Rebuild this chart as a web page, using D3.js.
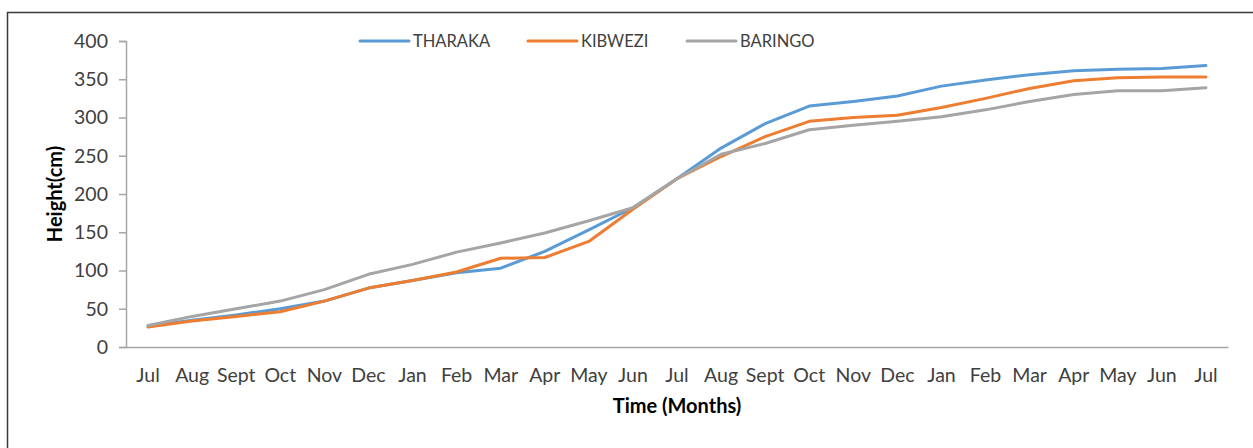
<!DOCTYPE html>
<html>
<head>
<meta charset="utf-8">
<script src="https://cdn.jsdelivr.net/npm/d3@7"></script>
<style>
  body { margin: 0; background: #fff; }
  svg { display: block; font-family: Lato, "Open Sans", sans-serif; }
  .tick text { fill: #404040; font-size: 19.5px; font-family: Lato, "Open Sans", sans-serif; }
  .leg-label { fill: #404040; font-size: 16.5px; }
  .axis-title { fill: #000; font-size: 20px; font-weight: bold; }
</style>
</head>
<body>
<div id="chart"></div>
<script>
const months = ['Jul', 'Aug', 'Sept', 'Oct', 'Nov', 'Dec', 'Jan', 'Feb', 'Mar', 'Apr', 'May', 'Jun',
  'Jul', 'Aug', 'Sept', 'Oct', 'Nov', 'Dec', 'Jan', 'Feb', 'Mar', 'Apr', 'May', 'Jun', 'Jul'];
const tharaka = [27, 35, 42, 50, 60, 77, 87, 97, 103, 125, 153, 182, 220, 260, 292, 315, 321, 328, 341, 349, 356, 361, 363, 364, 368];
const kibwezi = [26, 34, 40, 46, 60, 77, 87, 98, 116, 117, 138, 180, 220, 249, 275, 295, 300, 303, 313, 325, 338, 348, 352, 353, 353];
const baringo = [28, 40, 50, 60, 75, 95, 108, 124, 136, 149, 165, 182, 220, 252, 266, 284, 290, 295, 301, 310, 321, 330, 335, 335, 339];
const seriesNames = ['THARAKA', 'KIBWEZI', 'BARINGO'];
const seriesColors = ['#5B9BD5', '#ED7D31', '#A5A5A5'];
const yTicks = [0, 50, 100, 150, 200, 250, 300, 350, 400];

const width = 1253, height = 448;
const margin = { left: 126, right: 25, top: 41, bottom: 101 };

const svg = d3.select('#chart').append('svg')
  .attr('width', width)
  .attr('height', height);

// chart frame (runs off the right and bottom of the picture)
svg.append('rect')
  .attr('x', 7.5).attr('y', 12.5)
  .attr('width', 1260).attr('height', 450)
  .attr('fill', 'none')
  .attr('stroke', '#3a3a3a')
  .attr('stroke-width', 1.5);

const x = d3.scaleBand()
  .domain(d3.range(months.length))
  .range([margin.left, width - margin.right]);

const y = d3.scaleLinear()
  .domain([0, 400])
  .range([height - margin.bottom, margin.top]);

// y axis
const yAxis = svg.append('g')
  .attr('transform', `translate(${margin.left},0)`)
  .call(d3.axisLeft(y).tickValues(yTicks).tickSize(7).tickPadding(11));
yAxis.select('.domain').attr('stroke', '#a6a6a6').attr('stroke-width', 1.5);
yAxis.selectAll('.tick line').attr('stroke', '#a6a6a6').attr('stroke-width', 1.5);

// x axis
const xAxis = svg.append('g')
  .attr('transform', `translate(0,${height - margin.bottom})`)
  .call(d3.axisBottom(x).tickFormat(i => months[i]).tickSize(0).tickPadding(21));
xAxis.select('.domain').attr('stroke', '#a6a6a6').attr('stroke-width', 1.5);

// lines
const line = d3.line()
  .x((d, i) => x(i) + x.bandwidth() / 2)
  .y(d => y(d));

[tharaka, kibwezi, baringo].forEach((vals, k) => {
  svg.append('path')
    .datum(vals)
    .attr('fill', 'none')
    .attr('stroke', seriesColors[k])
    .attr('stroke-width', 3)
    .attr('stroke-linejoin', 'round')
    .attr('stroke-linecap', 'round')
    .attr('d', line);
});

// axis titles
svg.append('text')
  .attr('class', 'axis-title')
  .attr('x', (margin.left + width - margin.right) / 2)
  .attr('y', 413)
  .attr('text-anchor', 'middle')
  .text('Time (Months)');

svg.append('text')
  .attr('class', 'axis-title')
  .attr('transform', `translate(62,${(margin.top + height - margin.bottom) / 2}) rotate(-90)`)
  .attr('text-anchor', 'middle')
  .text('Height(cm)');

// legend
const legendX = [360, 528, 687];
seriesNames.forEach((name, k) => {
  const g = svg.append('g').attr('transform', `translate(${legendX[k]},41)`);
  g.append('line')
    .attr('x1', 0).attr('x2', 49)
    .attr('stroke', seriesColors[k])
    .attr('stroke-width', 3)
    .attr('stroke-linecap', 'round');
  g.append('text')
    .attr('class', 'leg-label')
    .attr('x', 53)
    .attr('dy', '0.35em')
    .text(name);
});
</script>
</body>
</html>
